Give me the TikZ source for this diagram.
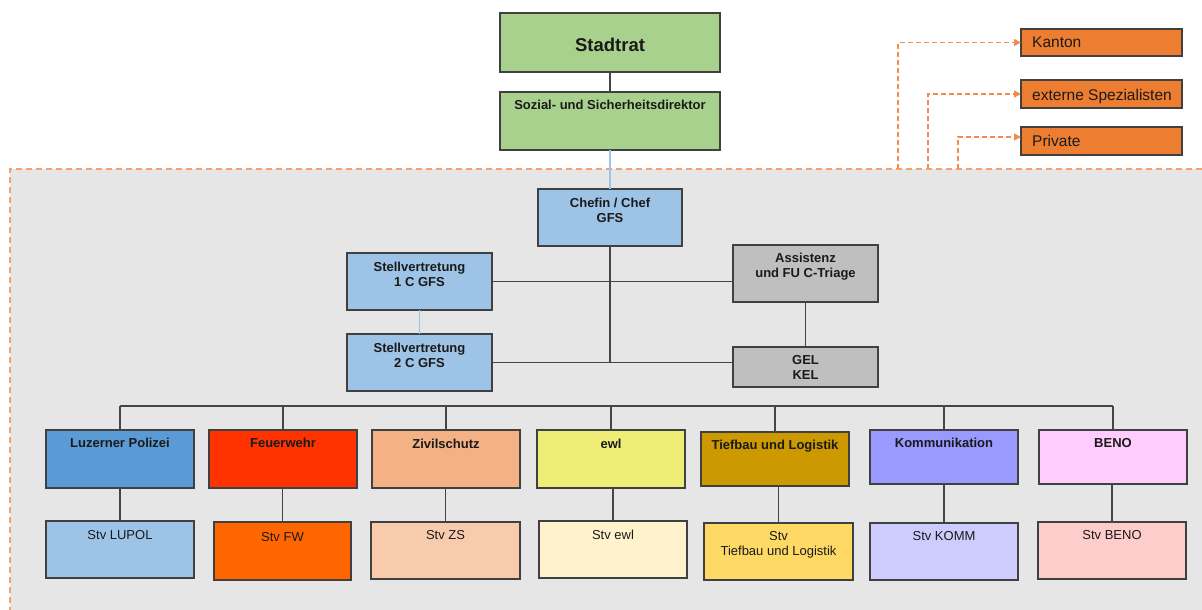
\documentclass[tikz,border=0pt]{standalone}
\usepackage{fontspec}
\setmainfont{Liberation Sans}
\usetikzlibrary{arrows.meta}
\definecolor{regfill}{HTML}{E6E6E6}
\definecolor{regborder}{HTML}{F2A36E}
\definecolor{darr}{HTML}{F08C4E}
\definecolor{bcol}{HTML}{404040}
\definecolor{ccol}{HTML}{454545}
\definecolor{tcol}{HTML}{1A1A1A}
\definecolor{green1}{HTML}{A9D18E}
\definecolor{lblue}{HTML}{9DC3E6}
\definecolor{gray1}{HTML}{BFBFBF}
\definecolor{orange1}{HTML}{ED7D31}
\definecolor{cPol}{HTML}{5B9BD5}
\definecolor{cFw}{HTML}{FF3300}
\definecolor{cZs}{HTML}{F4B183}
\definecolor{cEwl}{HTML}{EEEE77}
\definecolor{cTief}{HTML}{CC9900}
\definecolor{cKomm}{HTML}{9999FF}
\definecolor{cBeno}{HTML}{FFCCFF}
\definecolor{sPol}{HTML}{9DC3E6}
\definecolor{sFw}{HTML}{FF6600}
\definecolor{sZs}{HTML}{F8CBAD}
\definecolor{sEwl}{HTML}{FFF2CC}
\definecolor{sTief}{HTML}{FFD966}
\definecolor{sKomm}{HTML}{CCCCFF}
\definecolor{sBeno}{HTML}{FFCCCC}
\newcommand{\twol}[2]{\begin{tabular}[t]{@{}c@{}}#1\\#2\end{tabular}}
\begin{document}
\begin{tikzpicture}[x=1pt,y=-1pt,
  box/.style={draw=bcol, line width=1.3pt, inner sep=0pt, outer sep=0pt, anchor=north west},
  lbl/.style={anchor=base, inner sep=0pt, text=tcol, font=\bfseries\fontsize{13}{15}\selectfont},
  nlbl/.style={anchor=base, inner sep=0pt, text=tcol, font=\fontsize{13}{15}\selectfont},
  olbl/.style={anchor=base west, inner sep=0pt, text=tcol, font=\fontsize{15.5}{18}\selectfont},
  conn/.style={draw=ccol, line width=1.6pt},
  lconn/.style={draw=lblue, line width=1.6pt},
  darrow/.style={draw=darr, line width=1.4pt, dash pattern=on 5pt off 3pt, -{Triangle[length=7pt,width=7pt]}},
  regb/.style={draw=regborder, line width=1.6pt, dash pattern=on 6pt off 4pt}
]
\useasboundingbox (0,0) rectangle (1202,610);
% region
\fill[regfill] (10,169) rectangle (1202,610);
\draw[regb] (1202,169) -- (10,169) -- (10,610);
\coordinate (d1) at (898,169);
\coordinate (d2) at (928,169);
\coordinate (d3) at (958,169);

% top boxes
\node[box, fill=green1, minimum width=220pt, minimum height=59pt] (stadtrat) at (500,13) {};
\node[box, fill=green1, minimum width=220pt, minimum height=58pt] (sozial) at (500,92) {};
\node[box, fill=lblue, minimum width=144pt, minimum height=57pt] (chef) at (538,189) {};
\node[box, fill=lblue, minimum width=145pt, minimum height=57pt] (stv1) at (347,253) {};
\node[box, fill=lblue, minimum width=145pt, minimum height=57pt] (stv2) at (347,334) {};
\node[box, fill=gray1, minimum width=145pt, minimum height=57pt] (assist) at (733,245) {};
\node[box, fill=gray1, minimum width=145pt, minimum height=40pt] (gel) at (733,347) {};

% department row
\node[box, fill=cPol, minimum width=148pt, minimum height=58pt] (lupol) at (46,430) {};
\node[box, fill=cFw, minimum width=148pt, minimum height=58pt] (fw) at (209,430) {};
\node[box, fill=cZs, minimum width=148pt, minimum height=58pt] (zs) at (372,430) {};
\node[box, fill=cEwl, minimum width=148pt, minimum height=58pt] (ewl) at (537,430) {};
\node[box, fill=cTief, minimum width=148pt, minimum height=54pt] (tief) at (701,432) {};
\node[box, fill=cKomm, minimum width=148pt, minimum height=54pt] (komm) at (870,430) {};
\node[box, fill=cBeno, minimum width=148pt, minimum height=54pt] (beno) at (1039,430) {};

% deputy row
\node[box, fill=sPol, minimum width=148pt, minimum height=57pt] (slupol) at (46,521) {};
\node[box, fill=sFw, minimum width=137pt, minimum height=58pt] (sfw) at (214,522) {};
\node[box, fill=sZs, minimum width=149pt, minimum height=57pt] (szs) at (371,522) {};
\node[box, fill=sEwl, minimum width=148pt, minimum height=57pt] (sewl) at (539,521) {};
\node[box, fill=sTief, minimum width=149pt, minimum height=57pt] (stief) at (704,523) {};
\node[box, fill=sKomm, minimum width=148pt, minimum height=57pt] (skomm) at (870,523) {};
\node[box, fill=sBeno, minimum width=148pt, minimum height=57pt] (sbeno) at (1038,522) {};

% external boxes
\node[box, fill=orange1, minimum width=161pt, minimum height=27pt] (kanton) at (1021,29) {};
\node[box, fill=orange1, minimum width=161pt, minimum height=28pt] (ext) at (1021,80) {};
\node[box, fill=orange1, minimum width=161pt, minimum height=28pt] (priv) at (1021,127) {};

% texts
\node[lbl, font=\bfseries\fontsize{18.5}{22}\selectfont] (t-stadtrat) at (610,52) {Stadtrat};
\node[lbl] (t-sozial) at (610,110) {Sozial- und Sicherheitsdirektor};
\node[lbl] (t-chef) at (610,207) {\twol{Chefin / Chef}{GFS}};
\node[lbl] (t-stv1) at (419.5,271) {\twol{Stellvertretung}{1 C GFS}};
\node[lbl] (t-stv2) at (419.5,352) {\twol{Stellvertretung}{2 C GFS}};
\node[lbl] (t-assist) at (805.5,262) {\twol{Assistenz}{und FU C-Triage}};
\node[lbl] (t-gel) at (805.5,364) {\twol{GEL}{KEL}};
\node[lbl] (t-lupol) at (120,447) {Luzerner Polizei};
\node[lbl] (t-fw) at (283,447) {Feuerwehr};
\node[lbl] (t-zs) at (446,448) {Zivilschutz};
\node[lbl] (t-ewl) at (611,448) {ewl};
\node[lbl] (t-tief) at (775,449) {Tiefbau und Logistik};
\node[lbl] (t-komm) at (944,447) {Kommunikation};
\node[lbl] (t-beno) at (1113,447) {BENO};
\node[nlbl] (t-slupol) at (120,539) {Stv LUPOL};
\node[nlbl] (t-sfw) at (282.5,541) {Stv FW};
\node[nlbl] (t-szs) at (445.5,539) {Stv ZS};
\node[nlbl] (t-sewl) at (613,539) {Stv ewl};
\node[nlbl] (t-stief) at (778.5,540) {\twol{Stv}{Tiefbau und Logistik}};
\node[nlbl] (t-skomm) at (944,540) {Stv KOMM};
\node[nlbl] (t-sbeno) at (1112,539) {Stv BENO};
\node[olbl] (t-kanton) at (1032,48) {Kanton};
\node[olbl] (t-ext) at (1032,100) {externe Spezialisten};
\node[olbl] (t-priv) at (1032,146) {Private};

% connectors
\draw[conn] (stadtrat.south) -- (sozial.north);
\draw[lconn] (sozial.south) -- (chef.north);
\draw[conn] (chef.south) -- (chef.south |- stv2.east);
\draw[conn] (stv1.east) -- (stv1.east -| assist.west);
\draw[conn] (stv2.east) -- (stv2.east -| gel.west);
\draw[lconn] (stv1.south) -- (stv2.north);
\draw[conn] (assist.south) -- (gel.north);

\coordinate (busL) at (120,406);
\coordinate (busR) at (1113,406);
\draw[conn] (busL) -- (busR);
\foreach \t in {lupol,fw,zs,ewl,tief,komm,beno}{
  \draw[conn] (\t.north) -- (\t.north |- busL);
}
\foreach \t/\s in {lupol/slupol,fw/sfw,zs/szs,ewl/sewl,tief/stief,komm/skomm,beno/sbeno}{
  \draw[conn] (\s.north) -- (\s.north |- \t.south);
}

% dashed arrows
\draw[darrow] (d1) |- (kanton.west);
\draw[darrow] (d2) |- (ext.west);
\draw[darrow] (d3) |- ([yshift=4pt]priv.west);
\end{tikzpicture}
\end{document}
